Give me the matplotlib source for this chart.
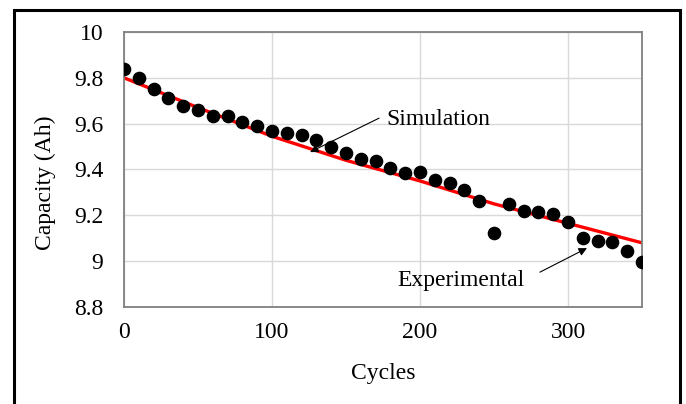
import matplotlib.pyplot as plt
from matplotlib.patches import Rectangle

# experimental capacity readings
cycles = [0, 10, 20, 30, 40, 50, 60, 70, 80, 90, 100, 110, 120, 130, 140, 150, 160, 170,
          180, 190, 200, 210, 220, 230, 240, 250, 260, 270, 280, 290, 300, 310, 320, 330, 340, 350]
capacity = [9.838, 9.80, 9.75, 9.71, 9.677, 9.66, 9.633, 9.635, 9.607, 9.59, 9.568, 9.56,
            9.55, 9.528, 9.50, 9.472, 9.445, 9.437, 9.406, 9.384, 9.389, 9.354, 9.343, 9.312,
            9.264, 9.122, 9.249, 9.218, 9.214, 9.205, 9.17, 9.103, 9.087, 9.083, 9.044, 8.995]

# simulation curve
sim_cycles = [0, 50, 100, 150, 200, 250, 300, 350]
sim_capacity = [9.80, 9.67, 9.545, 9.44, 9.35, 9.25, 9.165, 9.08]

xticks = [0, 100, 200, 300]
yticks = [8.8, 9.0, 9.2, 9.4, 9.6, 9.8, 10.0]
ytick_labels = ['8.8', '9', '9.2', '9.4', '9.6', '9.8', '10']


def run():
    plt.rcParams['font.family'] = ['Liberation Serif', 'DejaVu Serif']
    fig = plt.figure(figsize=(6.86, 4.04), dpi=100)
    ax = fig.add_axes([0.1808, 0.2401, 0.7551, 0.6807])

    ax.plot(sim_cycles, sim_capacity, color='#ff0000', lw=2.4, zorder=2)
    ax.plot(cycles, capacity, 'o', color='black', markersize=8.8, zorder=3)

    ax.set_xlim(0, 350)
    ax.set_ylim(8.8, 10.0)
    ax.set_xticks(xticks)
    ax.set_yticks(yticks)
    ax.set_yticklabels(ytick_labels)
    ax.tick_params(axis='both', length=0, labelsize=17)
    ax.tick_params(axis='y', pad=15)
    ax.tick_params(axis='x', pad=11)
    ax.grid(True, color='#d9d9d9', lw=1.0)
    ax.set_axisbelow(True)
    for s in ax.spines.values():
        s.set_color('#808080')
        s.set_linewidth(1.3)

    ax.set_xlabel('Cycles', fontsize=17)
    ax.set_ylabel('Capacity (Ah)', fontsize=17)
    ax.xaxis.set_label_coords(0.5, -0.205)
    ax.yaxis.set_label_coords(-0.132, 0.45)

    arrow = dict(arrowstyle='-|>', color='black', lw=0.8, mutation_scale=12,
                 shrinkA=0, shrinkB=0)
    ax.annotate('', xy=(125.7, 9.476), xytext=(172.3, 9.624), zorder=5, arrowprops=arrow)
    ax.text(177, 9.62, 'Simulation', fontsize=17, va='center', ha='left')
    ax.annotate('', xy=(312.8, 9.057), xytext=(281, 8.952), zorder=5, arrowprops=arrow)
    ax.text(185, 8.917, 'Experimental', fontsize=17, va='center', ha='left')

    # outer frame of the figure
    fig.patches.append(Rectangle((14 / 686, -0.1), 666 / 686, 1.1 - 10 / 404,
                                 transform=fig.transFigure, fill=False,
                                 edgecolor='black', lw=2.2))

    plt.savefig('out.png', dpi=100)


if __name__ == "__main__":
    run()
